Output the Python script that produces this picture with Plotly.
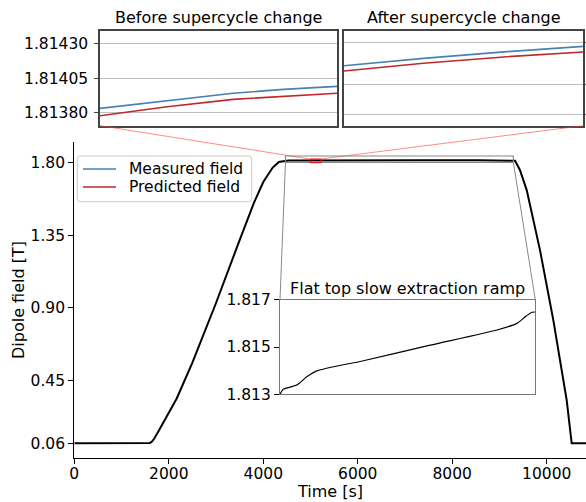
import plotly.graph_objects as go

# ---------------- data ----------------
# main dipole cycle (time [s], field [T])
rise_t = [0, 1566, 1600, 1640, 1690, 1770, 1950, 2168, 2500, 3000, 3500, 3800, 4000, 4200, 4330]
rise_b = [0.06, 0.06, 0.062, 0.069, 0.088, 0.128, 0.222, 0.338, 0.56, 0.93, 1.32, 1.55,
          1.68, 1.77, 1.805]

flat_t = [4470, 4532, 4786, 4975, 5164, 6046, 7308, 8570, 8948, 9105, 9232, 9294]
flat_b = [1.8130, 1.81321, 1.81339, 1.81374, 1.81399, 1.81442, 1.81508, 1.81572,
          1.81600, 1.81628, 1.81647, 1.81648]

fall_t = [9330, 9433, 9577, 9858, 10140, 10423, 10529, 10832]
fall_b = [1.812, 1.755, 1.63, 1.258, 0.824, 0.328, 0.06, 0.06]

# zoomed window, before supercycle change
before_t = [4990, 5054, 5117, 5165, 5216]
before_meas = [1.813829, 1.813883, 1.813939, 1.813968, 1.813990]
before_pred = [1.813775, 1.813841, 1.813895, 1.813919, 1.813939]

# zoomed window, after supercycle change
after_t = [4990, 5065, 5144, 5216]
after_meas = [1.814496, 1.814550, 1.814599, 1.814638]
after_pred = [1.814458, 1.814514, 1.814562, 1.814596]

series_names = ["Measured field", "Predicted field"]

main_ticks = [0.06, 0.45, 0.90, 1.35, 1.80]
x_ticks = [0, 2000, 4000, 6000, 8000, 10000]
before_ticks = [1.81380, 1.81405, 1.81430]
after_ticks = [1.814143, 1.814360, 1.814664]
flat_ticks = [1.813, 1.815, 1.817]

# ---------------- layout helpers ----------------
W, H = 586, 502
FONT = "DejaVu Sans"
FS = 15.5   # tick labels
FT = 16     # titles, labels
FL = 15.5   # legend
BLUE = "#4682b4"
RED = "#c1272d"


def fx(p):
    return p / W


def fy(p):
    return 1 - p / H


main_x = [74.3, 586.0]
main_y = [142.0, 458.3]
main_xr = [0, 10832]
main_yr = [-0.033, 1.9284]


def to_paper(t, b):
    px = main_x[0] + (t - main_xr[0]) / (main_xr[1] - main_xr[0]) * (main_x[1] - main_x[0])
    py = main_y[1] - (b - main_yr[0]) / (main_yr[1] - main_yr[0]) * (main_y[1] - main_y[0])
    return fx(px), fy(py)


main_t = rise_t + flat_t + fall_t
main_b = rise_b + flat_b + fall_b

fig = go.Figure()
fig.add_trace(go.Scatter(x=main_t, y=main_b, mode="lines", line=dict(color="black", width=2),
                         showlegend=False, xaxis="x", yaxis="y"))
fig.add_trace(go.Scatter(x=before_t, y=before_meas, mode="lines", name=series_names[0],
                         showlegend=False, line=dict(color=BLUE, width=1.6),
                         xaxis="x2", yaxis="y2"))
fig.add_trace(go.Scatter(x=before_t, y=before_pred, mode="lines", name=series_names[1],
                         showlegend=False, line=dict(color=RED, width=1.6),
                         xaxis="x2", yaxis="y2"))
fig.add_trace(go.Scatter(x=after_t, y=after_meas, mode="lines", name=series_names[0],
                         showlegend=False, line=dict(color=BLUE, width=1.6),
                         xaxis="x3", yaxis="y3"))
fig.add_trace(go.Scatter(x=after_t, y=after_pred, mode="lines", name=series_names[1],
                         showlegend=False, line=dict(color=RED, width=1.6),
                         xaxis="x3", yaxis="y3"))
fig.add_trace(go.Scatter(x=flat_t, y=flat_b, mode="lines", showlegend=False,
                         line=dict(color="black", width=1.2, shape="spline", smoothing=0.6),
                         xaxis="x4", yaxis="y4"))

tickfont = dict(family=FONT, size=FS, color="black")

inset_box = dict(showline=True, mirror=True, linecolor="#444444", linewidth=1.5,
                 zeroline=False, automargin=False)

layout = dict(
    template="none",
    width=W, height=H, autosize=False,
    margin=dict(l=0, r=0, t=0, b=0, pad=0),
    paper_bgcolor="white", plot_bgcolor="white",
    font=dict(family=FONT, size=FS, color="black"),
    showlegend=False,
    xaxis=dict(domain=[fx(main_x[0]), 1.0], range=main_xr, anchor="y",
               tickvals=x_ticks, ticktext=[str(v) for v in x_ticks],
               ticks="outside", ticklen=5, tickwidth=1.2, tickcolor="black",
               ticklabelstandoff=-4,
               showline=True, linecolor="black", linewidth=1.2, showgrid=False,
               zeroline=False, tickfont=tickfont, automargin=False),
    yaxis=dict(domain=[fy(main_y[1]), fy(main_y[0])], range=main_yr, anchor="x",
               tickvals=main_ticks, ticktext=["%.2f" % v for v in main_ticks],
               ticks="outside", ticklen=5, tickwidth=1.2, tickcolor="black",
               showline=True, linecolor="black", linewidth=1.2, showgrid=False,
               zeroline=False, tickfont=tickfont, automargin=False),
    xaxis2=dict(domain=[fx(100), fx(337)], range=[before_t[0], before_t[-1]], anchor="y2",
                showticklabels=False, ticks="", showgrid=False, **inset_box),
    yaxis2=dict(domain=[fy(125.7), fy(31)], range=[1.813702, 1.814395], anchor="x2",
                tickvals=before_ticks, ticktext=["%.5f" % v for v in before_ticks],
                ticks="outside", ticklen=4, tickcolor="#444444", ticklabelstandoff=3,
                showgrid=True, gridcolor="#c0c0c0", gridwidth=1.2, tickfont=tickfont,
                **inset_box),
    xaxis3=dict(domain=[fx(344), fx(583.3)], range=[after_t[0], after_t[-1]], anchor="y3",
                showticklabels=False, ticks="", showgrid=False, **inset_box),
    yaxis3=dict(domain=[fy(125.7), fy(31)], range=[1.814058, 1.81475], anchor="x3",
                side="right", tickvals=after_ticks, showticklabels=False,
                ticks="outside", ticklen=4, tickcolor="#444444",
                showgrid=True, gridcolor="#c0c0c0", gridwidth=1.2, **inset_box),
    xaxis4=dict(domain=[fx(280), fx(535.3)], range=[flat_t[0], flat_t[-1]], anchor="y4",
                showticklabels=False, ticks="", showgrid=False, showline=True, mirror=True,
                linecolor="#777777", linewidth=1.2, zeroline=False, automargin=False),
    yaxis4=dict(domain=[fy(394.3), fy(299.7)], range=[1.813, 1.817], anchor="x4",
                tickvals=flat_ticks, ticktext=["%.3f" % v for v in flat_ticks],
                ticks="outside", ticklen=5, tickcolor="black", showgrid=False,
                showline=True, mirror=True, linecolor="#777777", linewidth=1.2,
                zeroline=False, tickfont=tickfont, automargin=False),
)
fig.update_layout(**layout)

shapes = []
# flat top indicator (gray)
shapes.append(dict(type="rect", xref="x", yref="y", x0=flat_t[0], x1=flat_t[-1],
                   y0=1.8025, y1=1.8415, line=dict(color="#888888", width=1.2)))
bl = to_paper(flat_t[0], 1.8025)
br = to_paper(flat_t[-1], 1.8025)
shapes.append(dict(type="line", xref="paper", yref="paper", x0=bl[0], y0=bl[1],
                   x1=fx(280), y1=fy(299.7), line=dict(color="#888888", width=1)))
shapes.append(dict(type="line", xref="paper", yref="paper", x0=br[0], y0=br[1],
                   x1=fx(535.3), y1=fy(299.7), line=dict(color="#888888", width=1)))
# supercycle window indicator (red)
shapes.append(dict(type="rect", xref="x", yref="y", x0=before_t[0], x1=before_t[-1],
                   y0=1.800, y1=1.823, line=dict(color="red", width=1)))
tl = to_paper(before_t[0], 1.823)
tr = to_paper(before_t[-1], 1.823)
shapes.append(dict(type="line", xref="paper", yref="paper", x0=fx(100), y0=fy(125.7),
                   x1=tl[0], y1=tl[1], line=dict(color="rgba(255,60,60,0.6)", width=1)))
shapes.append(dict(type="line", xref="paper", yref="paper", x0=fx(583.3), y0=fy(125.7),
                   x1=tr[0], y1=tr[1], line=dict(color="rgba(255,60,60,0.6)", width=1)))

# legend box (matplotlib style, rounded corners)
lx0, lx1, ly0, ly1, rr = fx(77.3), fx(251.7), fy(201.7), fy(156), 3
ddx, ddy = rr / W, rr / H
path = (f"M {lx0 + ddx},{ly1} L {lx1 - ddx},{ly1} Q {lx1},{ly1} {lx1},{ly1 - ddy} "
        f"L {lx1},{ly0 + ddy} Q {lx1},{ly0} {lx1 - ddx},{ly0} L {lx0 + ddx},{ly0} "
        f"Q {lx0},{ly0} {lx0},{ly0 + ddy} L {lx0},{ly1 - ddy} Q {lx0},{ly1} {lx0 + ddx},{ly1} Z")
shapes.append(dict(type="path", xref="paper", yref="paper", path=path,
                   fillcolor="rgba(255,255,255,0.8)", line=dict(color="#cccccc", width=1),
                   layer="above"))
leg_y = [169.0, 187.0]
for yy, col in zip(leg_y, [BLUE, RED]):
    shapes.append(dict(type="line", xref="paper", yref="paper", x0=fx(83), x1=fx(116),
                       y0=fy(yy), y1=fy(yy), line=dict(color=col, width=1.6), layer="above"))
fig.update_layout(shapes=shapes)

ann = []


def txt(s, x, y, size=FT, angle=0, xanchor="center"):
    ann.append(dict(text=s, x=fx(x), y=fy(y), xref="paper", yref="paper", showarrow=False,
                    xanchor=xanchor, yanchor="middle", textangle=angle,
                    font=dict(family=FONT, size=size, color="black")))


txt("Before supercycle change", 218.5, 18)
txt("After supercycle change", 463.5, 18)
txt("Flat top slow extraction ramp", 407.8, 288.3)
txt("Time [s]", 329.5, 491.7)
txt("Dipole field [T]", 18, 300, angle=-90)
txt(series_names[0], 126.7, leg_y[0], size=FL, xanchor="left")
txt(series_names[1], 126.7, leg_y[1], size=FL, xanchor="left")
fig.update_layout(annotations=ann)

fig.write_html("out.html", config={"displayModeBar": False},
               post_script="document.body.style.margin='0';")
